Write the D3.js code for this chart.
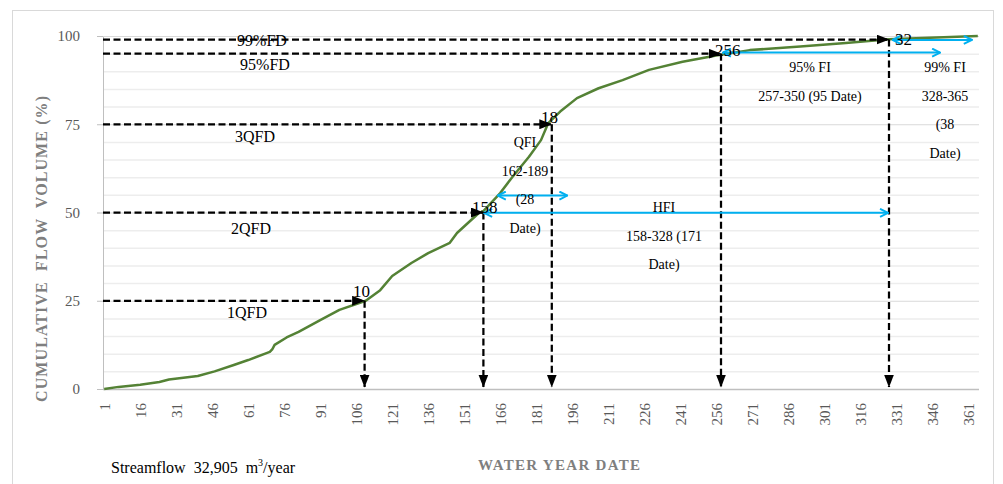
<!DOCTYPE html>
<html>
<head>
<meta charset="utf-8">
<script src="https://cdn.jsdelivr.net/npm/d3@7"></script>
<style>
  body { margin: 0; background: #fff; }
  text { font-family: "Liberation Serif", "Times New Roman", serif; }
</style>
</head>
<body>
<div class="vis-flow"></div>
<script>
// cumulative flow volume (%), by water year day
const days =   [1, 7, 16, 24, 28, 40, 47, 55, 61, 70, 71, 72, 77, 82, 91, 99, 110, 116, 121, 129, 136, 145, 148, 157, 159, 166, 171, 178, 183, 186, 191, 198, 207, 217, 228, 242, 256, 270, 291, 310, 328, 345, 365];
const volume = [0, 0.6, 1.2, 2.0, 2.7, 3.7, 5.0, 6.8, 8.2, 10.5, 11.2, 12.5, 14.6, 16.2, 19.5, 22.4, 25.0, 28.0, 32.0, 35.7, 38.5, 41.4, 44.2, 49.8, 50.4, 55.5, 60.0, 65.8, 70.5, 75.3, 78.6, 82.4, 85.2, 87.5, 90.4, 92.7, 94.5, 96.0, 97.0, 98.0, 99.1, 99.5, 100];

const xTicks = d3.range(1, 366, 15);
const yTicks = [0, 25, 50, 75, 100];

// flow duration levels: label, level %, day reached, day label
const fdLabels = ["1QFD", "2QFD", "3QFD", "95%FD", "99%FD"];
const fdLevels = [25, 50, 75, 95, 99];
const fdDays   = [109.5, 159, 187.5, 258, 328];
const fdDayText = ["10", "158", "18", "256", "32"];

// flow intervals (blue double arrows): from day, to day, level %
const fiNames = ["QFI", "HFI", "95% FI", "99% FI"];
const fiFrom  = [165, 159.3, 258.8, 329.5];
const fiTo    = [194, 327.6, 349.3, 362.5];
const fiLevel = [54.8, 49.9, 95.3, 98.9];
const fiText  = [
  ["QFI", "162-189", "(28", "Date)"],
  ["HFI", "158-328 (171", "Date)"],
  ["95% FI", "257-350 (95 Date)"],
  ["99% FI", "328-365", "(38", "Date)"]
];

const width = 1003, height = 484;
const svg = d3.select(".vis-flow").append("svg")
  .attr("width", width).attr("height", height);

const x = d3.scaleLinear().domain([0.5, 365.5]).range([103, 979]);
const y = d3.scaleLinear().domain([0, 100]).range([389, 36]);

// outer frame
svg.append("rect").attr("x", 12.5).attr("y", 10.5).attr("width", 981).attr("height", 490)
  .attr("fill", "none").attr("stroke", "#d9d9d9");

const defs = svg.append("defs");
defs.append("marker").attr("id", "tri")
  .attr("markerUnits", "userSpaceOnUse").attr("viewBox", "0 0 13 10")
  .attr("markerWidth", 13).attr("markerHeight", 10)
  .attr("refX", 12.5).attr("refY", 5).attr("orient", "auto")
  .append("path").attr("d", "M0,0L13,5L0,10Z").attr("fill", "#000");
defs.append("marker").attr("id", "chev")
  .attr("markerUnits", "userSpaceOnUse").attr("viewBox", "0 0 10 10")
  .attr("markerWidth", 10).attr("markerHeight", 10)
  .attr("refX", 9).attr("refY", 5).attr("orient", "auto-start-reverse")
  .append("path").attr("d", "M1,1L9,5L1,9").attr("fill", "none")
  .attr("stroke", "#00b0f0").attr("stroke-width", 2);

// gridlines
const grid = svg.append("g");
grid.selectAll("line").data(d3.range(5, 100, 5).filter(v => v % 25 !== 0))
  .join("line")
  .attr("x1", x.range()[0]).attr("x2", x.range()[1])
  .attr("y1", d => y(d) + 0.5).attr("y2", d => y(d) + 0.5)
  .attr("stroke", "#ededed").attr("stroke-width", 1.5);

// y axis
const yAxis = svg.append("g").attr("transform", "translate(103,0)")
  .call(d3.axisLeft(y).tickValues(yTicks).tickSize(6).tickPadding(17));
yAxis.select(".domain").attr("stroke", "#bfbfbf");
yAxis.selectAll(".tick line").attr("stroke", "#bfbfbf");
yAxis.selectAll(".tick").append("line")
  .attr("x1", 0).attr("x2", x.range()[1] - 103)
  .attr("stroke", d => d === 0 ? "#bfbfbf" : "#d9d9d9").attr("stroke-width", d => d === 0 ? 1.5 : 1);
yAxis.selectAll(".tick text")
  .attr("fill", "#595959").attr("font-size", 15)
  .style("font-family", "'Liberation Serif', serif");

// x axis labels (category style, no ticks)
const xAxis = svg.append("g").attr("transform", "translate(0,389)")
  .call(d3.axisBottom(x).tickValues(xTicks).tickSize(0).tickFormat(d3.format("d")));
xAxis.select(".domain").remove();
xAxis.selectAll(".tick text")
  .attr("fill", "#595959").attr("font-size", 15)
  .style("font-family", "'Liberation Serif', serif")
  .attr("transform", "rotate(-90)")
  .attr("text-anchor", "end")
  .attr("x", -14).attr("y", 0).attr("dy", "0.35em");

// axis titles
svg.append("text")
  .attr("transform", "translate(47,249) rotate(-90)")
  .attr("text-anchor", "middle").attr("font-weight", "bold")
  .attr("font-size", 16).attr("fill", "#7f7f7f")
  .style("white-space", "pre")
  .attr("textLength", 306).attr("lengthAdjust", "spacing")
  .text("CUMULATIVE  FLOW  VOLUME (%)");
svg.append("text")
  .attr("x", 559).attr("y", 470)
  .attr("text-anchor", "middle").attr("font-weight", "bold")
  .attr("font-size", 15).attr("fill", "#7f7f7f")
  .attr("textLength", 162).attr("lengthAdjust", "spacing")
  .text("WATER YEAR DATE");
const sf = svg.append("text").attr("x", 111).attr("y", 473)
  .attr("font-size", 16).attr("fill", "#000");
sf.append("tspan").text("Streamflow  32,905  m").style("white-space", "pre");
sf.append("tspan").text("3").attr("font-size", 10).attr("dy", -7);
sf.append("tspan").text("/year").attr("dy", 7);

// flow duration curve
const pts = days.map((d, i) => [d, volume[i]]);
svg.append("path").datum(pts)
  .attr("fill", "none").attr("stroke", "#548235").attr("stroke-width", 2.5)
  .attr("stroke-linejoin", "round")
  .attr("d", d3.line().x(d => x(d[0])).y(d => y(d[1])));

// dashed horizontal and vertical arrows
const fd = svg.append("g");
fdLevels.forEach((v, i) => {
  fd.append("line")
    .attr("x1", x.range()[0]).attr("x2", x(fdDays[i]))
    .attr("y1", y(v)).attr("y2", y(v))
    .attr("stroke", "#000").attr("stroke-width", 2.25).attr("stroke-dasharray", "7,3.5")
    .attr("marker-end", "url(#tri)");
  fd.append("line")
    .attr("x1", x(fdDays[i])).attr("x2", x(fdDays[i]))
    .attr("y1", y(v)).attr("y2", y(0) - 2)
    .attr("stroke", "#000").attr("stroke-width", 2.25).attr("stroke-dasharray", "7,3.5")
    .attr("marker-end", "url(#tri)");
});

// flow interval double arrows
fiNames.forEach((n, i) => {
  svg.append("line")
    .attr("x1", x(fiFrom[i])).attr("x2", x(fiTo[i]))
    .attr("y1", y(fiLevel[i])).attr("y2", y(fiLevel[i]))
    .attr("stroke", "#00b0f0").attr("stroke-width", 2)
    .attr("marker-start", "url(#chev)").attr("marker-end", "url(#chev)");
});

// duration labels below the dashed lines
const fdLabelPos = [[247, 318], [251, 234], [255, 142], [265, 70], [262, 46]];
fdLabels.forEach((t, i) => {
  svg.append("text").attr("x", fdLabelPos[i][0]).attr("y", fdLabelPos[i][1])
    .attr("text-anchor", "middle").attr("font-size", 16).attr("fill", "#000").text(t);
});

// day labels at the curve
const dayPos = [[353, 297], [472, 213], [541, 123], [715, 56], [895, 45]];
fdDayText.forEach((t, i) => {
  svg.append("text").attr("x", dayPos[i][0]).attr("y", dayPos[i][1])
    .attr("font-size", 17).attr("fill", "#000").text(t);
});

// interval text blocks
const fiPos = [[525, 147], [664, 212], [810, 72], [945, 72]];
fiText.forEach((lines, i) => {
  const t = svg.append("text").attr("text-anchor", "middle")
    .attr("font-size", 14).attr("fill", "#000");
  lines.forEach((l, j) => {
    t.append("tspan").attr("x", fiPos[i][0]).attr("y", fiPos[i][1] + j * 28.7).text(l);
  });
});
</script>
</body>
</html>
